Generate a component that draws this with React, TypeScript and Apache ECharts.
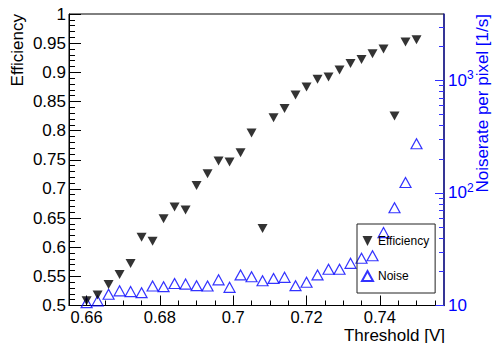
import React, { useEffect, useRef } from 'react';
import * as echarts from 'echarts';

// ---- data ----
const thresholds = [
  0.66, 0.663, 0.666, 0.669, 0.672, 0.675, 0.678, 0.681, 0.684, 0.687, 0.69,
  0.693, 0.696, 0.699, 0.702, 0.705, 0.708, 0.711, 0.714, 0.717, 0.72, 0.723,
  0.726, 0.729, 0.732, 0.735, 0.738, 0.741, 0.744, 0.747, 0.75,
];
const efficiency = [
  0.508, 0.518, 0.536, 0.553, 0.572, 0.617, 0.61, 0.649, 0.669, 0.664, 0.706,
  0.726, 0.748, 0.746, 0.762, 0.796, 0.632, 0.822, 0.838, 0.861, 0.875, 0.888,
  0.892, 0.904, 0.915, 0.922, 0.932, 0.94, 0.825, 0.952, 0.956,
];
const noise = [
  10.6, 11.0, 12.6, 13.5, 13.3, 13.0, 14.9, 14.7, 15.7, 15.5, 15.0, 14.9, 16.9,
  14.5, 18.7, 18.0, 16.6, 17.4, 17.8, 15.0, 16.1, 18.7, 21.0, 21.0, 23.7, 26.3,
  27.7, 44.5, 74, 124, 274,
];
const xMajorTicks = [0.66, 0.68, 0.7, 0.72, 0.74];
const xMinorTicks = [
  0.665, 0.67, 0.675, 0.685, 0.69, 0.695, 0.705, 0.71, 0.715, 0.725, 0.73,
  0.735, 0.745, 0.75, 0.755,
];
const noiseDecades = [10, 100, 1000];
const noiseMinorTicks = [20, 30, 40, 50, 60, 70, 80, 90, 200, 300, 400, 500, 600, 700, 800, 900, 2000, 3000];

const FONT = "'Liberation Sans', Arial, Helvetica, sans-serif";
const X_MIN = 0.6552;
const X_MAX = 0.7575;
const N_MIN = 10;
const N_MAX = 3900;
const BLUE = '#0000ff';
const DOWN_TRIANGLE = 'path://M0,0L10,0L5,10Z';

const fmtNum = (v: number) => String(Number(Number(v).toFixed(3)));

function buildOption(): any {
  const logHelper = (ticks: number[], length: number) => ({
    type: 'value',
    min: Math.log10(N_MIN),
    max: Math.log10(N_MAX),
    position: 'right',
    axisLine: { show: false },
    axisTick: {
      show: true,
      inside: true,
      length,
      customValues: ticks.map((t) => Math.log10(t)),
      lineStyle: { color: '#3030ff', width: 1 },
    },
    axisLabel: { show: false },
    splitLine: { show: false },
  });

  return {
    animation: false,
    backgroundColor: '#ffffff',
    textStyle: { fontFamily: FONT },
    grid: {
      left: 69,
      right: 48,
      top: 14,
      bottom: 37.5,
      show: true,
      borderColor: '#000',
      borderWidth: 1,
      backgroundColor: 'transparent',
    },
    legend: {
      orient: 'vertical',
      left: 357,
      top: 224,
      padding: [11, 6, 11, 4],
      itemGap: 23,
      itemWidth: 11,
      itemHeight: 10,
      borderColor: '#222',
      borderWidth: 1,
      borderRadius: 0,
      backgroundColor: 'transparent',
      textStyle: { fontSize: 12, color: '#000', fontFamily: FONT },
      data: [{ name: 'Efficiency', icon: DOWN_TRIANGLE }, { name: 'Noise', icon: 'triangle' }],
    },
    xAxis: [
      {
        type: 'value',
        min: X_MIN,
        max: X_MAX,
        position: 'bottom',
        axisLine: { show: true, lineStyle: { color: '#000', width: 1 } },
        axisTick: {
          show: true,
          inside: true,
          length: 10,
          customValues: xMajorTicks,
          lineStyle: { color: '#000', width: 1 },
        },
        axisLabel: {
          customValues: xMajorTicks,
          margin: 3,
          fontSize: 16.5,
          color: '#000',
          fontFamily: FONT,
          formatter: (v: number) => fmtNum(v),
        },
        splitLine: { show: false },
      },
      {
        type: 'value',
        min: X_MIN,
        max: X_MAX,
        position: 'bottom',
        axisLine: { show: false },
        axisTick: {
          show: true,
          inside: true,
          length: 5,
          customValues: xMinorTicks,
          lineStyle: { color: '#000', width: 1 },
        },
        axisLabel: { show: false },
        splitLine: { show: false },
      },
    ],
    yAxis: [
      {
        type: 'value',
        min: 0.5,
        max: 1,
        interval: 0.05,
        position: 'left',
        axisLine: { show: true, lineStyle: { color: '#000', width: 1 } },
        axisTick: { show: true, inside: true, length: 12, lineStyle: { color: '#000' } },
        minorTick: { show: true, splitNumber: 5, length: 6, lineStyle: { color: '#000' } },
        axisLabel: {
          margin: 3,
          fontSize: 17,
          color: '#000',
          fontFamily: FONT,
          formatter: (v: number) => fmtNum(v),
        },
        splitLine: { show: false },
      },
      {
        type: 'log',
        logBase: 10,
        min: N_MIN,
        max: N_MAX,
        position: 'right',
        axisLine: { show: true, lineStyle: { color: '#1c1c9c', width: 1.5 } },
        axisTick: { show: false },
        axisLabel: {
          margin: 4,
          showMaxLabel: false,
          fontSize: 17,
          color: BLUE,
          fontFamily: FONT,
          formatter: (v: number) => {
            const e = Math.round(Math.log10(v));
            return e === 1 ? '10' : `10{sup|${e}}`;
          },
          rich: {
            sup: { fontSize: 12, color: BLUE, fontFamily: FONT, padding: [0, 0, 10, 0] },
          },
        },
        splitLine: { show: false },
      },
      logHelper(noiseDecades, 9),
      logHelper(noiseMinorTicks, 5),
    ],
    graphic: [
      {
        type: 'text',
        x: 17,
        y: 14,
        rotation: Math.PI / 2,
        style: {
          text: 'Efficiency',
          fontSize: 17,
          fontFamily: FONT,
          fill: '#000',
          align: 'right',
          verticalAlign: 'middle',
        },
      },
      {
        type: 'text',
        x: 482,
        y: 14,
        rotation: Math.PI / 2,
        style: {
          text: 'Noiserate per pixel [1/s]',
          fontSize: 17,
          fontFamily: FONT,
          fill: BLUE,
          align: 'right',
          verticalAlign: 'middle',
        },
      },
      {
        type: 'text',
        x: 445,
        y: 335,
        style: {
          text: 'Threshold [V]',
          fontSize: 17,
          fontFamily: FONT,
          fill: '#000',
          align: 'right',
          verticalAlign: 'middle',
        },
      },
    ],
    series: [
      {
        name: 'Noise',
        type: 'scatter',
        xAxisIndex: 0,
        yAxisIndex: 1,
        data: thresholds.map((x, i) => [x, noise[i]]),
        symbol: 'triangle',
        symbolSize: [11, 10],
        itemStyle: { color: 'transparent', borderColor: BLUE, borderWidth: 1.2 },
        z: 2,
      },
      {
        name: 'Efficiency',
        type: 'scatter',
        xAxisIndex: 0,
        yAxisIndex: 0,
        data: thresholds.map((x, i) => [x, efficiency[i]]),
        symbol: 'triangle',
        symbolRotate: 180,
        symbolSize: [10, 9],
        itemStyle: { color: '#000' },
        z: 3,
      },
    ],
  };
}

export default function App() {
  const ref = useRef<HTMLDivElement>(null);
  useEffect(() => {
    if (!ref.current) return;
    const chart = echarts.init(ref.current, null, { renderer: 'svg' });
    chart.setOption(buildOption());
    return () => chart.dispose();
  }, []);
  return (
    <div
      ref={ref}
      style={{ position: 'fixed', left: 0, top: 0, width: 492, height: 343, background: '#fff' }}
    />
  );
}
